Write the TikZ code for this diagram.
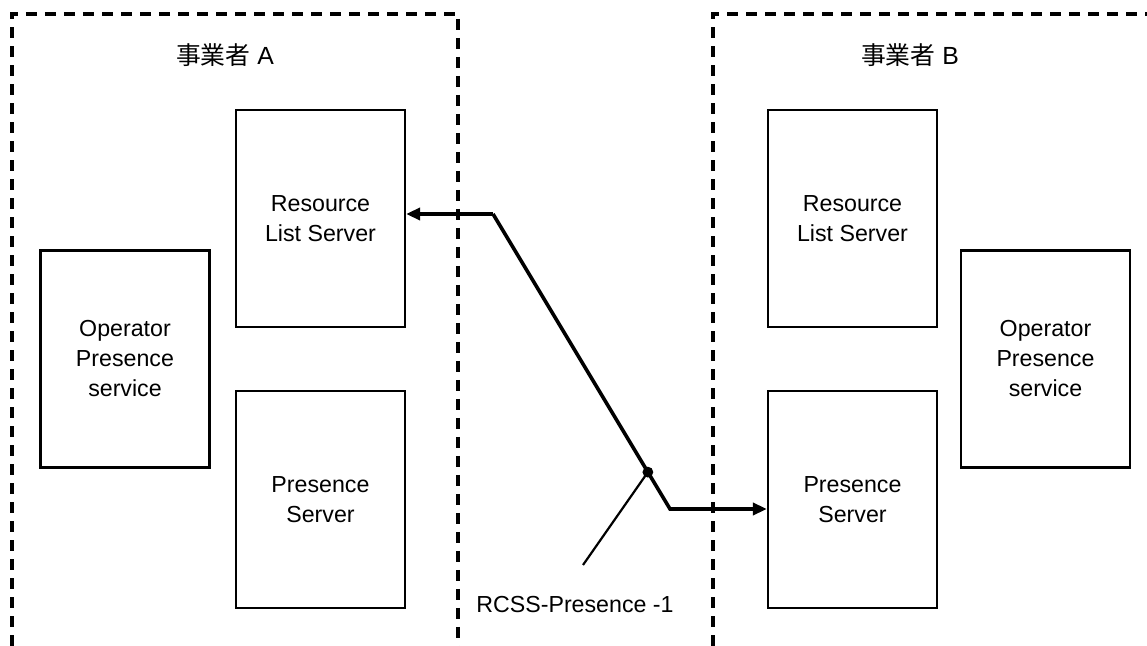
\documentclass[tikz,border=0pt]{standalone}
\usepackage{fontspec}
\setmainfont{Liberation Sans}
\newfontfamily\jpfont{Noto Sans CJK JP}
\usetikzlibrary{arrows.meta,calc}

\begin{document}
\begin{tikzpicture}[
    x=0.5pt, y=-0.5pt,
    srv/.style={draw, line width=1.1pt, minimum width=84.5pt, minimum height=108.5pt, align=center, inner sep=0pt, font=\fontsize{11.6}{15}\selectfont},
    org/.style={draw, line width=2pt, dash pattern=on 5.5pt off 4pt},
    lbl/.style={font=\fontsize{11.6}{15}\selectfont},
    link/.style={line width=1.8pt},
    >={Triangle[length=7pt, width=6pt]}
]
\useasboundingbox (0,0) rectangle (1147,646);

% operator frames
\draw[org] (12,646) -- (12,14) -- (458,14) -- (458,646);
\draw[org] (713,646) -- (713,14) -- (1147,14);
\node[lbl, font=\fontsize{12.4}{15}\selectfont] (opA) at (225,55) {{\jpfont\addfontfeature{} 事業者} A};
\node[lbl, font=\fontsize{12.4}{15}\selectfont] (opB) at (910,55) {{\jpfont 事業者} B};

% operator A
\node[srv] (rlsA) at (320.5,218.5) {Resource\\List Server};
\node[srv] (psA) at (320.5,499.5) {Presence\\Server};
\node[srv] (opsA) at (125,359) {Operator\\Presence\\service};

% operator B
\node[srv] (rlsB) at (852.5,218.5) {Resource\\List Server};
\node[srv] (psB) at (852.5,499.5) {Presence\\Server};
\node[srv] (opsB) at (1045.5,359) {Operator\\Presence\\service};

% interface
\coordinate (bendA) at (493,214);
\coordinate (bendB) at (670,509);
\coordinate (tap) at ($(bendA)!0.875!(bendB)$);
\coordinate (tail) at (583,565);
\node[lbl] (rcss) at (575,605) {RCSS-Presence -1};

\draw[link, ->] (bendA) -- (rlsA.east |- bendA);
\draw[link, ->] (bendA) -- (bendB) -- (psB.west |- bendB);
\draw[line width=1.1pt] (tap) -- (tail);
\fill (tap) circle (2.7pt);

\end{tikzpicture}
\end{document}
